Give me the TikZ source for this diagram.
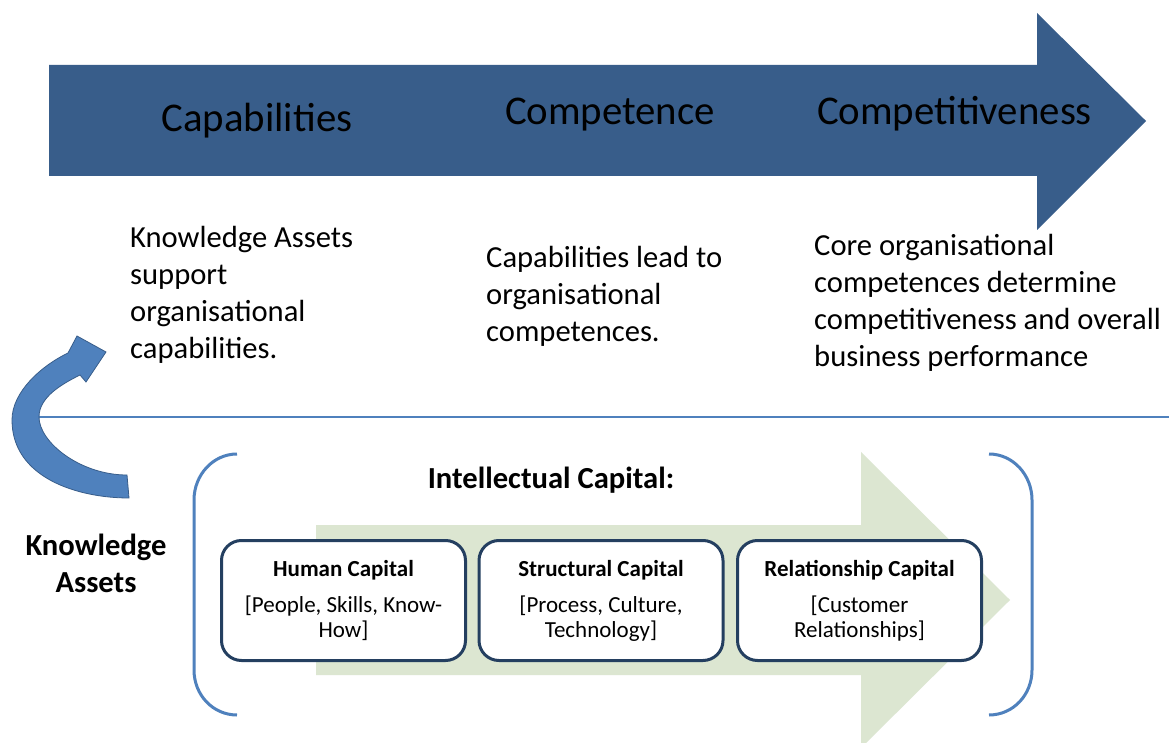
\documentclass[tikz,border=0pt]{standalone}
\usepackage{fontspec}
\setmainfont{Carlito}
\newcommand\cstack[1]{\vtop{\halign{\hfil##\hfil\cr#1\crcr}}}
\newcommand\lstack[1]{\vtop{\halign{##\hfil\cr#1\crcr}}}
\definecolor{darkarrow}{HTML}{385D8A}
\definecolor{accent}{HTML}{4F81BD}
\definecolor{greenarrow}{HTML}{DCE6D1}
\definecolor{boxline}{HTML}{243F60}
\begin{document}
\begin{tikzpicture}[x=1pt,y=1pt,
  bigtext/.style={font=\fontsize{40.8}{48}\selectfont, anchor=base, inner sep=0pt},
  desc/.style={font=\fontsize{30.6}{37}\selectfont, anchor=base west, inner sep=0pt},
  bolddesc/.style={font=\bfseries\fontsize{30.6}{37}\selectfont, anchor=base, inner sep=0pt},
  capbox/.style={draw=boxline, line width=3pt, fill=white, rounded corners=20pt, minimum width=244pt, minimum height=120pt, inner sep=0pt, font=\fontsize{23}{25}\selectfont},
  bracket/.style={draw=accent, line width=3pt}]
\clip (0,0) rectangle (1169,742);
\fill[white] (0,0) rectangle (1169,742);

% top process arrow
\fill[darkarrow] (49,566) -- (49,677) -- (1037,677) -- (1037,729) -- (1146,621) -- (1037,512) -- (1037,566) -- cycle;
\node[bigtext] (capab) at (257,610) {Capabilities};
\node[bigtext] (compet) at (610,617) {Competence};
\node[bigtext] (competit) at (954.5,617) {Competitiveness};

% descriptions
\node[desc] (d1) at (130,494) {\lstack{Knowledge Assets\cr support\cr organisational\cr capabilities.}};
\node[desc] (d2) at (486,474) {\lstack{Capabilities lead to\cr organisational\cr competences.}};
\node[desc] (d3) at (814,486) {\lstack{Core organisational\cr competences determine\cr competitiveness and overall\cr business performance}};

% divider line
\draw[accent, line width=1.5pt] (20,325) -- (1169,325);

% curved arrow
\filldraw[fill=accent, draw=darkarrow, line width=0.8pt]
  (129,244) .. controls (78,244) and (12,264) .. (12,322)
  .. controls (12,350) and (41,376) .. (68,389)
  -- (77,406) -- (106,390) -- (86,360) -- (80,367)
  .. controls (62,358) and (39,345) .. (39,325)
  .. controls (39,300) and (80,267) .. (127,267) -- cycle;

\node[bolddesc] (ka) at (96,187) {\cstack{Knowledge\cr Assets}};

% green arrow
\fill[greenarrow] (316,217) -- (861,217) -- (861,290) -- (1010,142) -- (861,-6) -- (861,67) -- (316,67) -- cycle;

% brackets
\draw[bracket] (237,288) .. controls (213,288) and (194,267) .. (194,242) -- (194,72) .. controls (194,47) and (213,27) .. (237,27);
\draw[bracket] (989,288) .. controls (1013,288) and (1032,267) .. (1032,242) -- (1032,72) .. controls (1032,47) and (1013,27) .. (989,27);

\node[bolddesc] (ic) at (551,254) {Intellectual Capital:};

% capital boxes
\node[capbox] (human) at (343.5,141.5) {\cstack{\textbf{Human Capital}\cr\noalign{\vskip11pt}[People, Skills, Know-\cr How]}};
\node[capbox] (struct) at (601,141.5) {\cstack{\textbf{Structural Capital}\cr\noalign{\vskip11pt}[Process, Culture,\cr Technology]}};
\node[capbox] (relat) at (859.5,141.5) {\cstack{\textbf{Relationship Capital}\cr\noalign{\vskip11pt}[Customer\cr Relationships]}};
\end{tikzpicture}
\end{document}
